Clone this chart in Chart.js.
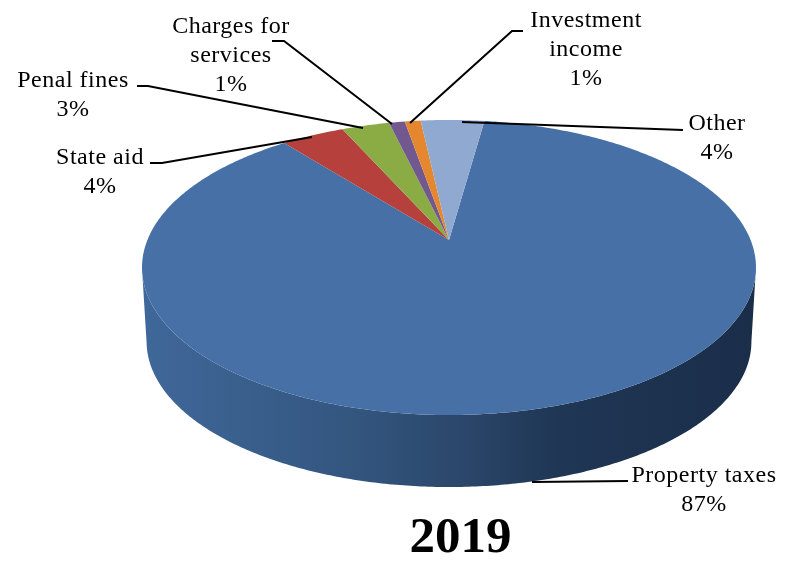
<!DOCTYPE html>
<html>
<head>
<meta charset="utf-8">
<title>2019</title>
<script src="https://cdn.jsdelivr.net/npm/chart.js@4"></script>
<style>
    html, body { margin: 0; padding: 0; background: #fff; }
    canvas { display: block; }
</style>
</head>
<body>
<canvas id="revenueChart" width="789" height="566"></canvas>
<script>
const categories = ['Property taxes', 'State aid', 'Penal fines', 'Charges for services', 'Investment income', 'Other'];
const shares = [87, 4, 3, 1, 1, 4];
const chartTitle = '2019';

const sliceColors = ['#4771a6', '#b5403c', '#8bac45', '#71588f', '#e5872f', '#90a9d1'];
const labelFont = '24px "Liberation Serif", serif';

// Label lines, centre x and first baseline for each category
const labelLines = [['Property taxes'], ['State aid'], ['Penal fines'], ['Charges for', 'services'], ['Investment', 'income'], ['Other']];
const labelX = [704, 100, 73, 231, 586, 717];
const labelY = [482, 164, 87, 33, 27, 130];
const lineStep = 29;

const leaders = [
    [[628, 481], [532, 482]],
    [[150, 163], [162, 163], [312, 137]],
    [[137, 86], [148, 86], [363, 128]],
    [[272, 41], [284, 41], [392, 124]],
    [[523, 31], [512, 31], [410, 123]],
    [[683, 130], [462, 122]]
];

// Perspective projection of the pie disc: apex of the wedges, half axes, tilt
const disc = { x: 449, y: 240, rx: 301.6, ry: 142.4, tilt: 0.1864 };
const rim = { x: 449, y: 314.6, rx: 297.1, ry: 140.3, tilt: 0.1864 };

function project(p, angle) {
    const u = Math.cos(angle);
    const v = Math.sin(angle);
    const w = 1 - p.tilt * v;
    return [p.x + p.rx * u / w, p.y + p.ry * v / w];
}

function sampleAngles(start, end) {
    const steps = Math.max(2, Math.ceil((end - start) / 0.01));
    const out = [];
    for (let i = 0; i <= steps; i++) {
        out.push(start + (end - start) * i / steps);
    }
    return out;
}

function drawWall(ctx, arc) {
    // the silhouette is widest where sin(angle) equals the tilt, so the wall starts there
    const angles = sampleAngles(arc.startAngle, arc.endAngle).filter(a => Math.sin(a) >= disc.tilt);
    const outline = angles.map(a => project(disc, a)).concat(angles.slice().reverse().map(a => project(rim, a)));
    const shade = ctx.createLinearGradient(146, 0, 752, 0);
    shade.addColorStop(0, '#3f6799');
    shade.addColorStop(0.34, '#33567f');
    shade.addColorStop(0.54, '#2a4568');
    shade.addColorStop(0.68, '#1f3654');
    shade.addColorStop(1, '#1a2e4a');
    ctx.beginPath();
    outline.forEach(pt => ctx.lineTo(pt[0], pt[1]));
    ctx.closePath();
    ctx.fillStyle = shade;
    ctx.fill();
}

function drawWedge(ctx, arc, color) {
    ctx.beginPath();
    ctx.moveTo(disc.x, disc.y);
    sampleAngles(arc.startAngle, arc.endAngle).forEach(a => {
        const pt = project(disc, a);
        ctx.lineTo(pt[0], pt[1]);
    });
    ctx.closePath();
    ctx.fillStyle = color;
    ctx.fill();
}

function drawCallouts(ctx) {
    ctx.strokeStyle = '#000';
    ctx.lineWidth = 2;
    leaders.forEach(points => {
        ctx.beginPath();
        points.forEach(pt => ctx.lineTo(pt[0], pt[1]));
        ctx.stroke();
    });

    ctx.fillStyle = '#000';
    ctx.font = labelFont;
    ctx.textAlign = 'center';
    ctx.textBaseline = 'alphabetic';
    ctx.letterSpacing = '0.5px';
    categories.forEach((name, i) => {
        const lines = labelLines[i].concat(shares[i] + '%');
        lines.forEach((line, n) => {
            ctx.fillText(line, labelX[i], labelY[i] + n * lineStep);
        });
    });
    ctx.letterSpacing = '0px';
}

// Replaces the flat arcs with a tilted disc built from the same arc angles
const tiltedPie = {
    id: 'tiltedPie',
    beforeDatasetsDraw(chart) {
        const ctx = chart.ctx;
        const arcs = chart.getDatasetMeta(0).data;
        ctx.save();
        drawWall(ctx, arcs[0]);
        arcs.forEach((arc, i) => drawWedge(ctx, arc, sliceColors[i]));
        drawCallouts(ctx);
        ctx.restore();
        return false;
    }
};

const ctx = document.getElementById('revenueChart').getContext('2d');
new Chart(ctx, {
    type: 'pie',
    data: {
        labels: categories,
        datasets: [{ data: shares, backgroundColor: sliceColors, borderWidth: 0 }]
    },
    options: {
        responsive: false,
        animation: false,
        rotation: 8,
        layout: { padding: { left: 132, bottom: 2 } },
        plugins: {
            legend: { display: false },
            tooltip: { enabled: false },
            title: {
                display: true,
                text: chartTitle,
                position: 'bottom',
                color: '#000',
                padding: 0,
                font: { family: '"Liberation Serif", serif', size: 51, weight: 'bold', lineHeight: 1 }
            }
        }
    },
    plugins: [tiltedPie]
});
</script>
</body>
</html>
